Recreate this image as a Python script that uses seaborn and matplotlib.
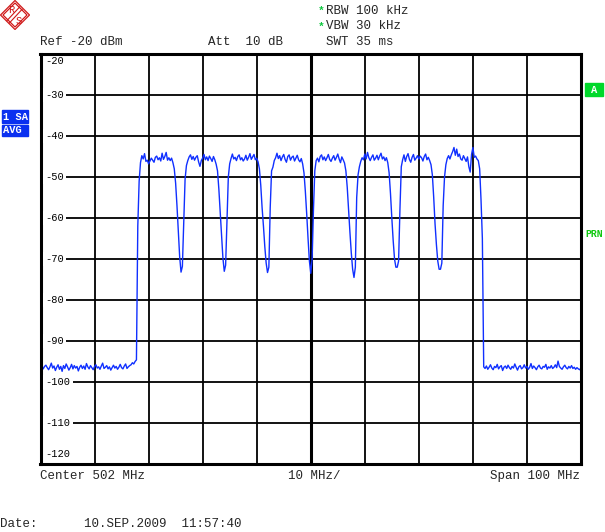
import numpy as np
import pandas as pd
import matplotlib
matplotlib.use("Agg")
import matplotlib.pyplot as plt
import seaborn as sns
from matplotlib.patches import Rectangle, Polygon
from matplotlib.lines import Line2D

# sweep: 452 .. 552 MHz, 401 points (0.25 MHz steps)
start_mhz, stop_mhz, n_points = 452.0, 552.0, 401

# noise floor below the multiplex (452.00 .. 469.75 MHz)
left_floor = [
    -96.4, -96.0, -96.8, -96.2, -95.9, -96.5, -97.0, -96.3, -95.4, -96.6,
    -96.1, -97.2, -96.4, -95.8, -96.9, -96.2, -97.4, -96.0, -96.7, -95.6,
    -96.3, -97.1, -96.5, -95.7, -96.8, -96.0, -96.6, -96.2, -97.3, -96.4,
    -95.9, -96.7, -96.1, -96.9, -95.5, -96.3, -96.8, -96.0, -96.5, -97.0,
    -96.2, -95.8, -96.6, -96.3, -96.9, -96.1, -95.4, -96.7, -96.4, -96.0,
    -96.8, -96.3, -97.1, -96.5, -95.9, -96.6, -96.2, -96.9, -96.4, -95.7,
    -96.5, -96.8, -96.1, -95.6, -96.7, -96.3, -96.0, -95.8, -95.3, -95.6,
    -95.0, -94.6,
]

# eight 8 MHz channels, 32 points each (470.00 .. 533.75 MHz)
ch1 = [-62.0, -51.0, -46.5, -44.8, -45.6, -44.3, -46.2, -45.9, -46.8, -46.1,
       -45.4, -45.9, -46.4, -45.2, -44.9, -45.8, -45.3, -46.1, -44.2, -45.7,
       -45.0, -44.0, -45.9, -45.3, -46.0, -45.4, -46.5, -48.0, -51.5, -57.0,
       -63.5, -69.5]
ch2 = [-73.2, -71.8, -61.0, -50.5, -47.2, -46.0, -45.1, -44.6, -45.7, -45.0,
       -45.9, -45.2, -44.8, -46.3, -47.4, -46.0, -45.4, -44.5, -45.8, -45.1,
       -46.0, -44.9, -45.5, -46.2, -45.0, -45.8, -46.9, -48.5, -53.0, -58.5,
       -64.0, -69.8]
ch3 = [-73.0, -71.5, -60.5, -50.0, -46.8, -45.5, -44.4, -45.6, -45.2, -46.0,
       -45.0, -44.6, -45.8, -45.3, -46.1, -45.6, -44.7, -45.9, -45.2, -44.3,
       -45.7, -45.1, -44.5, -45.8, -45.4, -46.3, -48.0, -52.0, -57.5, -62.0,
       -67.0, -71.0]
ch4 = [-73.3, -72.0, -57.5, -48.5, -47.6, -46.0, -45.3, -44.2, -45.5, -44.8,
       -46.0, -45.1, -44.5, -45.7, -46.4, -45.0, -44.6, -45.9, -45.2, -44.9,
       -46.1, -45.4, -44.7, -45.8, -46.3, -45.5, -46.8, -49.0, -53.5, -59.0,
       -65.0, -70.5]
ch5 = [-73.5, -70.0, -58.0, -48.5, -46.0, -45.4, -46.3, -45.0, -44.6, -45.8,
       -45.1, -46.0, -45.3, -44.5, -45.7, -46.2, -45.4, -44.8, -45.9, -45.2,
       -44.4, -45.6, -46.5, -45.1, -45.8, -46.6, -48.5, -52.5, -58.0, -63.5,
       -68.5, -72.5]
ch6 = [-74.5, -72.0, -55.0, -49.5, -47.5, -46.2, -45.3, -45.8, -44.4, -45.6,
       -44.0, -45.3, -46.0, -45.2, -44.6, -45.9, -45.4, -44.7, -45.8, -44.9,
       -44.2, -45.6, -45.1, -46.0, -45.3, -46.5, -49.0, -54.0, -60.0, -65.5,
       -70.0, -72.0]
ch7 = [-72.0, -70.5, -58.0, -47.5, -45.8, -44.6, -46.2, -45.0, -44.3, -45.7,
       -46.4, -45.2, -44.5, -45.9, -45.4, -44.8, -45.6, -44.9, -45.3, -46.1,
       -45.0, -44.4, -45.8, -45.2, -46.0, -47.0, -49.5, -55.0, -61.5, -66.5,
       -70.5, -72.5]
ch8 = [-72.5, -71.0, -57.0, -50.0, -47.0, -45.5, -44.8, -45.6, -44.6, -43.8,
       -42.8, -44.7, -43.2, -45.0, -44.4, -45.6, -45.9, -44.8, -45.5, -46.2,
       -45.1, -47.5, -48.8, -44.5, -42.8, -45.2, -44.9, -45.6, -46.0, -48.0,
       -55.5, -65.0]

# noise floor above the multiplex (534.00 .. 552.00 MHz)
right_floor = [
    -96.3, -96.7, -96.1, -96.9, -96.4, -95.8, -96.6, -97.0, -96.2, -96.5,
    -95.7, -96.8, -96.3, -96.0, -97.2, -96.4, -96.1, -96.7, -95.9, -96.5,
    -96.9, -96.2, -96.6, -95.6, -96.4, -97.1, -96.3, -96.0, -96.8, -96.5,
    -95.8, -96.6, -96.2, -96.9, -96.4, -95.5, -96.7, -96.1, -96.5, -97.0,
    -96.3, -95.9, -96.6, -96.8, -96.2, -96.4, -95.7, -96.9, -96.3, -96.6,
    -96.0, -96.7, -96.4, -95.8, -96.5, -94.9, -96.2, -96.6, -96.9, -96.3,
    -95.9, -96.5, -96.8, -96.2, -96.6, -96.0, -96.7, -96.4, -96.9, -96.5,
    -96.8, -97.0, -96.6,
]

y_labels = [-20, -30, -40, -50, -60, -70, -80, -90, -100, -110, -120]
x_grid = [452, 462, 472, 482, 492, 502, 512, 522, 532, 542, 552]

level = left_floor + ch1 + ch2 + ch3 + ch4 + ch5 + ch6 + ch7 + ch8 + right_floor
freq = np.linspace(start_mhz, stop_mhz, n_points)
df = pd.DataFrame({"freq": freq, "level": level})

sns.set_theme(style="white")
plt.rcParams["font.family"] = ["Liberation Mono", "DejaVu Sans Mono"]

W, H = 605, 532
fig = plt.figure(figsize=(W / 100, H / 100), dpi=100)
fig.patch.set_facecolor("white")


def fx(x):
    return x / W


def fy(y):
    return 1 - y / H


ax = fig.add_axes([fx(40.5), fy(464), fx(581) - fx(40.5), fy(54) - fy(464)])
sns.lineplot(data=df, x="freq", y="level", ax=ax, color="#1030ff", lw=1.0, zorder=2)
ax.set_xlim(start_mhz, stop_mhz)
ax.set_ylim(-120, -20)
ax.set_xticks(x_grid)
ax.set_yticks(y_labels)
ax.tick_params(length=0, labelbottom=False, labelleft=False)
ax.grid(True, color="black", lw=1.3)
ax.set_axisbelow(True)
ax.set_xlabel("")
ax.set_ylabel("")
for s in ax.spines.values():
    s.set_color("black")
    s.set_linewidth(2.2)
ax.axvline(502, color="black", lw=2.2, zorder=1.5)

# level labels drawn inside the grid
for v in y_labels:
    if v == -20:
        ax.text(0.009, -21.7, "-20", transform=ax.get_yaxis_transform(),
                fontsize=7.5, ha="left", va="center", color="black", zorder=3)
    elif v == -120:
        ax.text(0.009, -117.6, "-120", transform=ax.get_yaxis_transform(),
                fontsize=7.5, ha="left", va="center", color="black", zorder=3)
    else:
        ax.text(0.009, v, str(v), transform=ax.get_yaxis_transform(),
                fontsize=7.5, ha="left", va="center", color="black", zorder=3,
                bbox=dict(facecolor="white", edgecolor="none", pad=1.6))

# header / footer texts
fs = 9
fig.text(fx(40), fy(42), "Ref -20 dBm", fontsize=fs, ha="left", va="center")
fig.text(fx(208), fy(42), "Att  10 dB", fontsize=fs, ha="left", va="center")
fig.text(fx(326), fy(42), "SWT 35 ms", fontsize=fs, ha="left", va="center")
fig.text(fx(326), fy(10.5), "RBW 100 kHz", fontsize=fs, ha="left", va="center")
fig.text(fx(326), fy(26), "VBW 30 kHz", fontsize=fs, ha="left", va="center")
fig.text(fx(321), fy(11), "*", fontsize=8, ha="center", va="center",
         color="#10c840", weight="bold")
fig.text(fx(321), fy(26.5), "*", fontsize=8, ha="center", va="center",
         color="#10c840", weight="bold")
fig.text(fx(40), fy(476), "Center 502 MHz", fontsize=fs, ha="left", va="center")
fig.text(fx(288), fy(476), "10 MHz/", fontsize=fs, ha="left", va="center")
fig.text(fx(580), fy(476), "Span 100 MHz", fontsize=fs, ha="right", va="center")
fig.text(fx(0), fy(524), "Date:", fontsize=fs, ha="left", va="center")
fig.text(fx(84), fy(524), "10.SEP.2009  11:57:40", fontsize=fs, ha="left", va="center")

# trace info boxes
blue = "#0a30f0"
fig.patches.append(Rectangle((fx(2), fy(122.5)), 26 / W, 12 / H,
                             transform=fig.transFigure, color=blue))
fig.patches.append(Rectangle((fx(2), fy(135.5)), 26 / W, 11 / H,
                             transform=fig.transFigure, color=blue))
fig.text(fx(3), fy(116.5), "1 SA", fontsize=7.5, ha="left", va="center",
         color="white", weight="bold")
fig.text(fx(3), fy(130), "AVG", fontsize=7.5, ha="left", va="center",
         color="white", weight="bold")

green = "#00d82a"
fig.patches.append(Rectangle((fx(585), fy(96)), 18 / W, 12.5 / H,
                             transform=fig.transFigure, color=green))
fig.text(fx(594), fy(89.8), "A", fontsize=7.5, ha="center", va="center",
         color="white", weight="bold")
fig.text(fx(585), fy(234), "PRN", fontsize=7, ha="left", va="center",
         color="#10c810", weight="bold")

# R&S logo
red = "#d01818"
outer = [(15, 0.5), (29.5, 15), (15, 29.5), (0.5, 15)]
inner = [(15, 3), (27, 15), (15, 27), (3, 15)]
for pts in (outer, inner):
    fig.patches.append(Polygon([(fx(a), fy(b)) for a, b in pts], closed=True,
                               fill=False, edgecolor=red, lw=0.9,
                               transform=fig.transFigure))
for off in (-1.2, 1.2):
    fig.lines.append(Line2D([fx(8 + off), fx(21 + off)], [fy(22 + off), fy(8 + off)],
                            color=red, lw=0.8, transform=fig.transFigure))
fig.text(fx(11), fy(10), "R", fontsize=7.5, ha="center", va="center", color=red)
fig.text(fx(19), fy(20.5), "S", fontsize=7.5, ha="center", va="center", color=red)

fig.savefig("out.png", dpi=100, facecolor="white")
